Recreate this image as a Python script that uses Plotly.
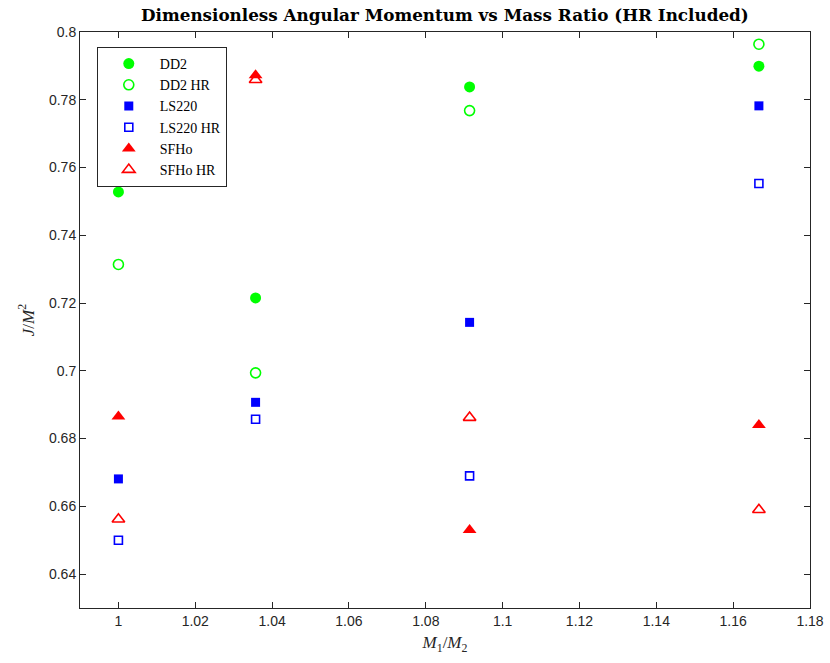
import plotly.graph_objects as go

# Mass ratios M1/M2 for the four binary configurations
mass_ratio = [1.0, 1.0357, 1.0914, 1.1667]

# Dimensionless angular momentum J/M^2 for each equation of state
dd2 = [0.7528, 0.7215, 0.7838, 0.7899]
dd2_hr = [0.7314, 0.6994, 0.7768, 0.7964]
ls220 = [0.6681, 0.6907, 0.7143, 0.7782]
ls220_hr = [0.6500, 0.6857, 0.6690, 0.7553]
sfho = [0.6865, 0.7872, 0.6530, 0.6840]
sfho_hr = [0.6562, 0.7859, 0.6862, 0.6590]

x_ticks = [1, 1.02, 1.04, 1.06, 1.08, 1.1, 1.12, 1.14, 1.16, 1.18]
x_tick_text = ["1", "1.02", "1.04", "1.06", "1.08", "1.1", "1.12", "1.14", "1.16", "1.18"]
y_ticks = [0.64, 0.66, 0.68, 0.7, 0.72, 0.74, 0.76, 0.78, 0.8]
y_tick_text = ["0.64", "0.66", "0.68", "0.7", "0.72", "0.74", "0.76", "0.78", "0.8"]

GREEN = "#00ff00"
BLUE = "#0000ff"
RED = "#ff0000"

series = [
    ("DD2", dd2, dict(symbol="circle", size=11, color=GREEN, line=dict(width=0))),
    ("DD2 HR", dd2_hr, dict(symbol="circle-open", size=10, color=GREEN, line=dict(width=1.6, color=GREEN))),
    ("LS220", ls220, dict(symbol="square", size=9, color=BLUE, line=dict(width=0))),
    ("LS220 HR", ls220_hr, dict(symbol="square-open", size=8, color=BLUE, line=dict(width=1.6, color=BLUE))),
    ("SFHo", sfho, dict(symbol="triangle-up", size=12, color=RED, line=dict(width=0))),
    ("SFHo HR", sfho_hr, dict(symbol="triangle-up-open", size=11, color=RED, line=dict(width=1.6, color=RED))),
]

fig = go.Figure()
for name, vals, marker in series:
    fig.add_trace(go.Scatter(x=mass_ratio, y=vals, mode="markers", name=name, marker=marker))

axis_common = dict(
    showgrid=False,
    zeroline=False,
    showline=True,
    linecolor="#262626",
    linewidth=1,
    mirror="ticks",
    ticks="inside",
    ticklen=6,
    tickcolor="#262626",
    automargin=False,
    tickfont=dict(family="Liberation Sans, Arial, sans-serif", size=14, color="#262626"),
)

label_font = dict(family="Liberation Serif, Times New Roman, serif", size=17, color="#262626")

fig.update_xaxes(
    range=[0.99, 1.18],
    tickvals=x_ticks,
    ticktext=x_tick_text,
    title=dict(text="<i>M</i><sub>1</sub>/<i>M</i><sub>2</sub>", font=label_font, standoff=8),
    **axis_common,
)
fig.update_yaxes(
    range=[0.63, 0.8],
    tickvals=y_ticks,
    ticktext=y_tick_text,
    title=dict(text="<i>J</i>/<i>M</i><sup>2</sup>", font=label_font, standoff=10),
    **axis_common,
)

fig.update_layout(
    width=830,
    height=663,
    margin=dict(l=80, r=20, t=32, b=55),
    paper_bgcolor="white",
    plot_bgcolor="white",
    title=dict(
        text="<b>Dimensionless Angular Momentum vs Mass Ratio (HR Included)</b>",
        font=dict(family="DejaVu Serif, serif", size=16.8, color="black"),
        x=0.536,
        xanchor="center",
        y=0.977,
        yanchor="middle",
    ),
    legend=dict(
        x=0.023,
        y=0.974,
        xanchor="left",
        yanchor="top",
        bgcolor="white",
        bordercolor="#262626",
        borderwidth=1,
        font=dict(family="Liberation Serif, Times New Roman, serif", size=14, color="black"),
        tracegroupgap=0,
        itemwidth=52,
        itemsizing="trace",
    ),
    showlegend=True,
)

fig.write_html("out.html")
